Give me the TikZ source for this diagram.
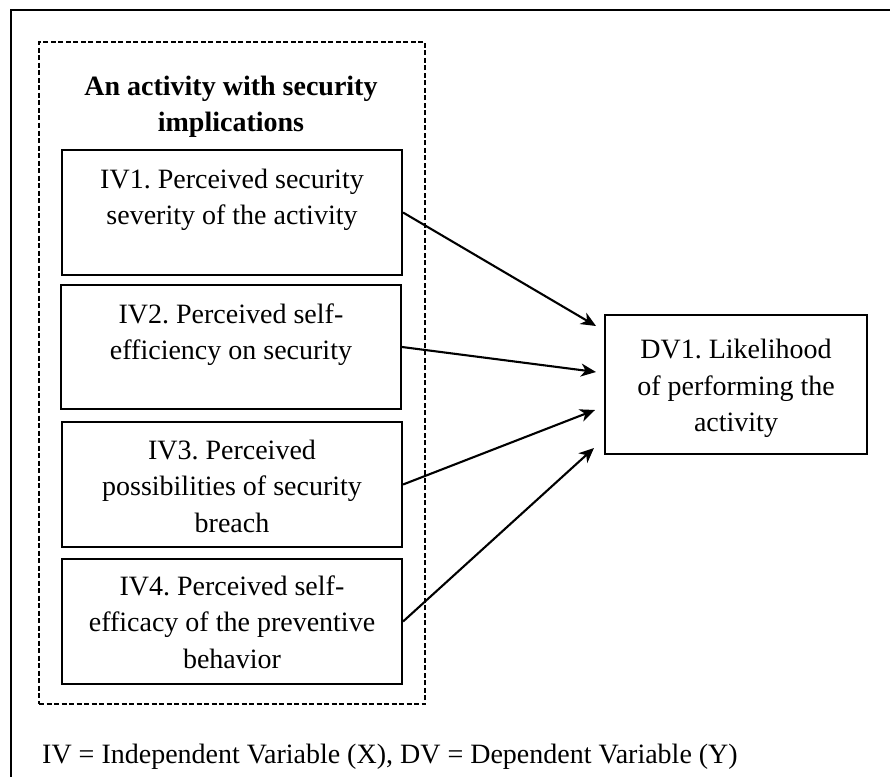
\documentclass[tikz,border=0pt]{standalone}
\usepackage{fontspec}
\setmainfont{Liberation Serif}
\usetikzlibrary{arrows.meta}
\frenchspacing
\newcommand{\bodyfont}{\fontsize{28}{36.5}\selectfont}
\tikzset{
  frameline/.style={line width=1.6pt},
  grpbox/.style={draw, line width=1.8pt, dash pattern=on 5pt off 2.5pt, inner sep=0pt},
  ivbox/.style={draw, line width=2.1pt, inner sep=0pt, font=\bodyfont},
  dvbox/.style={draw, line width=2.1pt, inner sep=0pt, font=\bodyfont},
  link/.style={line width=2.1pt, -{Stealth[length=15pt, width=13pt, inset=4.5pt]}},
}
\begin{document}
\begin{tikzpicture}[x=1pt, y=-1pt]
\useasboundingbox (0,0) rectangle (890,776);
\fill[white] (0,0) rectangle (890,776);
\draw[frameline] (11,800) -- (11,10) -- (900,10);

\node[grpbox, minimum width=386pt, minimum height=662pt] (grp) at (232,373) {};
\node[anchor=base, inner sep=0pt, font=\bodyfont\bfseries] (title) at (231,95)
  {\parbox[t]{380pt}{\centering An activity with security\\implications}};

\node[ivbox] (iv1) at (232,212.5) {\parbox[c][125pt][t]{340pt}{\centering\rule{0pt}{38pt}IV1. Perceived security\\severity of the activity}};
\node[ivbox] (iv2) at (231,347) {\parbox[c][124pt][t]{340pt}{\centering\rule{0pt}{38pt}IV2. Perceived self-\\efficiency on security}};
\node[ivbox] (iv3) at (232,484.5) {\parbox[c][125pt][t]{340pt}{\centering\rule{0pt}{37pt}IV3. Perceived\\possibilities of security\\breach}};
\node[ivbox] (iv4) at (232,621.5) {\parbox[c][125pt][t]{340pt}{\centering\rule{0pt}{36pt}IV4. Perceived self-\\efficacy of the preventive\\behavior}};

\node[dvbox] (dv) at (736,384.5) {\parbox[c][139pt][c]{262pt}{\centering\vspace*{8pt}DV1. Likelihood\\of performing the\\activity}};

\coordinate (e1) at (596,326);
\coordinate (e2) at (596,372);
\coordinate (e3) at (595,410);
\coordinate (e4) at (594,448);

\draw[link] (iv1.east) -- (e1);
\draw[link] (iv2.east) -- (e2);
\draw[link] (iv3.east) -- (e3);
\draw[link] (iv4.east) -- (e4);

\node[anchor=base west, inner sep=0pt, font=\bodyfont] (note) at (42,763)
  {IV = Independent Variable (X), DV = Dependent Variable (Y)};
\end{tikzpicture}
\end{document}
